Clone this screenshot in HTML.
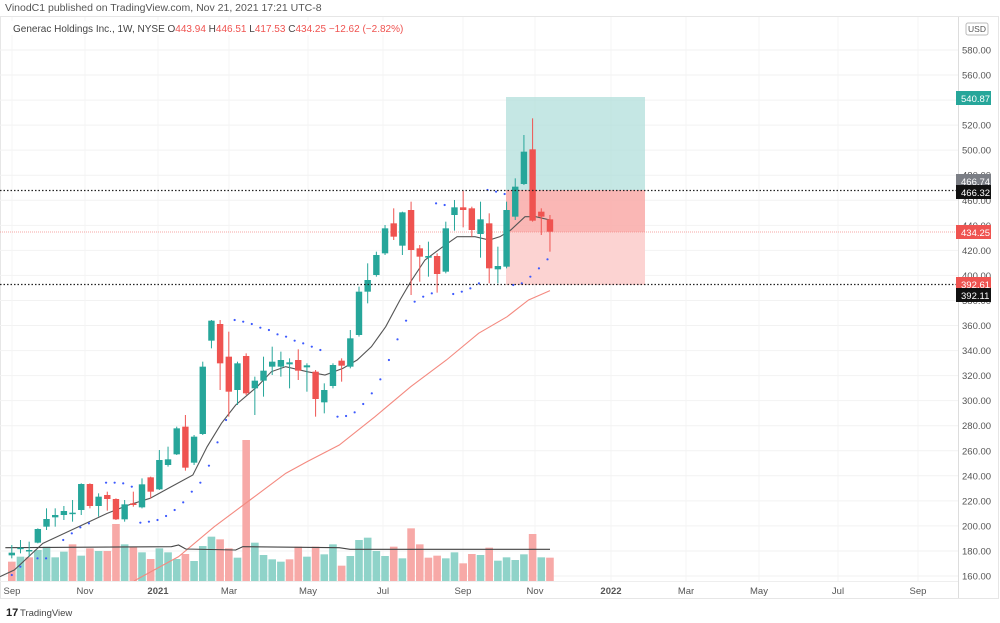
<!DOCTYPE html>
<html><head><meta charset="utf-8"><style>
body{margin:0;background:#fff;width:1000px;height:623px;overflow:hidden;font-family:"Liberation Sans",sans-serif}
svg{position:absolute;left:0;top:0}
</style></head><body>
<svg id="s" width="1000" height="623" xmlns="http://www.w3.org/2000/svg" font-family="Liberation Sans, sans-serif">
<text x="5" y="11" font-size="10.5" fill="#555">VinodC1 published on TradingView.com, Nov 21, 2021 17:21 UTC-8</text>
<rect x="0.5" y="16.5" width="998" height="582" fill="none" stroke="#e6e6e6"/>
<g id="grid"></g>
<rect x="10" y="21" width="400" height="14" fill="#fff"/>
<text x="13" y="32" font-size="10" fill="#444">Generac Holdings Inc., 1W, NYSE <tspan fill="#444">O</tspan><tspan fill="#ef5350">443.94</tspan> <tspan fill="#444">H</tspan><tspan fill="#ef5350">446.51</tspan> <tspan fill="#444">L</tspan><tspan fill="#ef5350">417.53</tspan> <tspan fill="#444">C</tspan><tspan fill="#ef5350">434.25 −12.62 (−2.82%)</tspan></text>
<rect x="506" y="97" width="139" height="93" fill="#b2dfdb" fill-opacity="0.75"/>
<rect x="506" y="190" width="139" height="42" fill="#f9aaa8" fill-opacity="0.85"/>
<rect x="506" y="232" width="139" height="53" fill="#fcd3d2"/>
<line x1="0" y1="232" x2="958" y2="232" stroke="#f48a87" stroke-width="0.7" stroke-dasharray="1 1"/>
<g id="vol"></g>
<g id="lines"></g>
<g id="c"></g>
<line x1="0" y1="190.5" x2="958" y2="190.5" stroke="#222" stroke-width="1.3" stroke-dasharray="1.5 2"/>
<line x1="0" y1="284.5" x2="958" y2="284.5" stroke="#222" stroke-width="1.3" stroke-dasharray="1.5 2"/>
<line x1="958.5" y1="17" x2="958.5" y2="598" stroke="#ddd"/>
<line x1="0" y1="581.5" x2="958" y2="581.5" stroke="#eee"/>
<g id="ax" font-size="9.5" fill="#555"></g>
<rect x="966" y="23" width="22" height="12" rx="2" fill="#fff" stroke="#bbb"/>
<text x="977" y="32" font-size="8.5" fill="#555" text-anchor="middle">USD</text>
<g font-size="9.5" fill="#fff">
<rect x="956" y="91" width="35" height="14" fill="#26a69a"/><text x="961" y="102">540.87</text>
<rect x="956" y="174" width="35" height="14" fill="#7b7e85"/><text x="961" y="185">466.74</text>
<rect x="956" y="185" width="35" height="14" fill="#111"/><text x="961" y="196">466.32</text>
<rect x="956" y="225" width="35" height="14" fill="#ef5350"/><text x="961" y="236">434.25</text>
<rect x="956" y="277" width="35" height="14" fill="#ef5350"/><text x="961" y="288">392.61</text>
<rect x="956" y="288" width="35" height="14" fill="#111"/><text x="961" y="299">392.11</text>
</g>
<g font-size="9.5" fill="#555" text-anchor="middle" id="dates"></g>
<text x="6" y="616" font-size="11" font-weight="bold" fill="#222">17</text>
<text x="20" y="616" font-size="9.5" fill="#444">TradingView</text>
</svg>
<script>
const NS="http://www.w3.org/2000/svg";
function el(p,t,a){const e=document.createElementNS(NS,t);for(const k in a)e.setAttribute(k,a[k]);document.getElementById(p).appendChild(e);return e;}
const Y=p=>576-(p-160)*1.2524;
for(let p=160;p<=580;p+=20){const y=Y(p);el('grid','line',{x1:0,x2:958,y1:y,y2:y,stroke:'#f2f2f2'});
 const t=el('ax','text',{x:962,y:y+3.5});t.textContent=p.toFixed(2);}
const dates=[["Sep",12],["Nov",85],["2021",158],["Mar",229],["May",308],["Jul",383],["Sep",463],["Nov",535],["2022",611],["Mar",686],["May",759],["Jul",838],["Sep",918]];
dates.forEach(d=>{el('grid','line',{x1:d[1],x2:d[1],y1:17,y2:581,stroke:'#f4f4f4'});const t=el('dates','text',{x:d[1],y:594});t.textContent=d[0];if(d[0].length==4)t.setAttribute('font-weight','bold');});
const G='#26a69a',R='#ef5350';
const c=[['g',1358,1366,1335,1375],['g',1343,1347,1320,1360],['g',1350,1354,1325,1370],['g',1287,1328,1285,1330],['g',1257,1280,1225,1290],['g',1245,1252,1225,1280],['g',1233,1245,1218,1260],['g',1238,1242,1200,1265],['g',1152,1230,1150,1245],['r',1152,1218,1150,1225],['g',1190,1218,1180,1250],['r',1185,1197,1175,1232],['r',1197,1258,1195,1260],['g',1213,1258,1200,1265],['r',1210,1215,1175,1220],['g',1153,1222,1135,1225],['r',1132,1175,1130,1195],['g',1080,1168,1050,1170],['g',1078,1095,1040,1100],['g',985,1063,980,1065],['r',980,1103,945,1112],['g',1010,1088,1005,1095],['g',800,1002,785,1005],['g',662,722,660,745],['r',672,790,660,870],['r',770,875,695,950],['g',790,870,785,915],['r',768,880,760,885],['g',842,865,830,945],['g',812,842,770,890],['g',785,800,740,825],['g',780,800,755,830],['g',787,793,775,865],['r',780,812,748,840],['g',796,802,790,875],['r',815,897,810,950],['g',870,907,850,940],['g',795,858,790,865],['r',782,797,775,845],['g',715,800,690,805],['g',575,705,560,710],['g',540,575,490,610],['g',465,525,455,530],['g',385,460,375,465],['r',370,410,325,420],['g',337,437,335,465],['r',330,450,305,585],['r',445,470,435,545],['g',468,473,425,530],['r',468,522,460,578],['g',385,515,365,520],['g',322,345,300,392],['r',322,330,272,382],['r',325,390,320,410],['g',358,402,305,473],['r',370,505,340,550],['g',498,508,440,550],['g',330,500,305,505],['g',260,350,235,360],['g',155,252,105,255],['r',148,362,55,365],['r',335,350,325,405],['r',358,395,345,455]];
const v=[[1385,'r'],[1370,'g'],[1372,'r'],[1350,'g'],[1340,'g'],[1372,'g'],[1355,'g'],[1333,'r'],[1367,'g'],[1345,'r'],[1353,'g'],[1353,'r'],[1272,'r'],[1333,'g'],[1340,'r'],[1357,'g'],[1377,'r'],[1345,'g'],[1357,'g'],[1377,'g'],[1362,'r'],[1383,'g'],[1338,'g'],[1310,'g'],[1318,'r'],[1345,'r'],[1373,'g'],[1020,'r'],[1328,'g'],[1365,'g'],[1378,'g'],[1385,'g'],[1378,'r'],[1340,'r'],[1370,'g'],[1340,'r'],[1363,'g'],[1333,'g'],[1397,'r'],[1368,'g'],[1320,'g'],[1313,'g'],[1353,'g'],[1368,'g'],[1340,'r'],[1375,'g'],[1285,'r'],[1333,'r'],[1373,'r'],[1367,'r'],[1375,'g'],[1357,'g'],[1390,'r'],[1362,'r'],[1365,'g'],[1343,'r'],[1382,'g'],[1372,'g'],[1380,'g'],[1363,'g'],[1302,'r'],[1372,'g'],[1373,'r']];
const K=2.8, z=q=>q/3+100, X=i=>11.8+8.68*i;
v.forEach((b,i)=>{const t=z(b[0]);el('vol','rect',{x:X(i)-3.8,y:t,width:7.6,height:581-t,fill:b[1]=='g'?'#8fd3c9':'#f7a9a7'});});
function poly(arr,col,w){el('lines','polyline',{points:arr.map(p=>(p[0]/K)+','+z(p[1])).join(' '),fill:'none',stroke:col,'stroke-width':w});}
poly([[0,1430],[40,1410],[120,1330],[180,1300],[240,1270],[300,1240],[360,1215],[420,1195],[480,1160],[540,1125],[580,1040],[620,970],[660,915],[720,860],[760,815],[800,800],[860,815],[910,825],[960,805],[1000,780],[1040,740],[1080,680],[1120,600],[1150,545],[1190,480],[1240,440],[1280,410],[1330,410],[1370,420],[1400,410],[1430,390],[1470,350],[1500,350],[1540,360]],'#555',1.1);
poly([[375,1443],[500,1370],[600,1280],[700,1200],[800,1120],[860,1085],[950,1035],[1050,950],[1150,860],[1250,780],[1340,700],[1420,650],[1480,600],[1540,572]],'#f48a80',1.1);
poly([[15,1343],[480,1340],[500,1335],[520,1347],[660,1350],[680,1340],[950,1343],[980,1348],[1540,1348]],'#444',1.1);
const sar=[[33,1425],[57,1400],[105,1375],[129,1375],[177,1320],[201,1300],[225,1282],[249,1270],[297,1148],[321,1148],[345,1150],[369,1160],[393,1268],[417,1265],[441,1260],[465,1248],[489,1230],[513,1207],[537,1175],[561,1148],[585,1097],[609,1027],[633,960],[657,660],[681,665],[705,672],[729,683],[753,690],[777,703],[801,710],[825,722],[849,730],[873,740],[897,750],[945,950],[969,948],[993,937],[1017,912],[1041,880],[1065,838],[1089,780],[1113,718],[1137,662],[1161,605],[1185,590],[1209,580],[1221,310],[1245,315],[1269,582],[1293,575],[1317,565],[1341,550],[1365,270],[1389,275],[1413,282],[1437,555],[1461,550],[1485,530],[1509,505],[1533,478]];
sar.forEach(p=>el('lines','circle',{cx:p[0]/K,cy:z(p[1]),r:1.1,fill:'#3d5afe'}));
c.forEach((k,i)=>{const col=k[0]=='g'?G:R,x=X(i);
 el('c','line',{x1:x,x2:x,y1:z(k[3]),y2:z(k[4]),stroke:col,'stroke-width':1});
 const t=z(k[1]),b=z(k[2]);el('c','rect',{x:x-3.2,y:t,width:6.4,height:Math.max(1.5,b-t),fill:col});});
</script>
</body></html>
